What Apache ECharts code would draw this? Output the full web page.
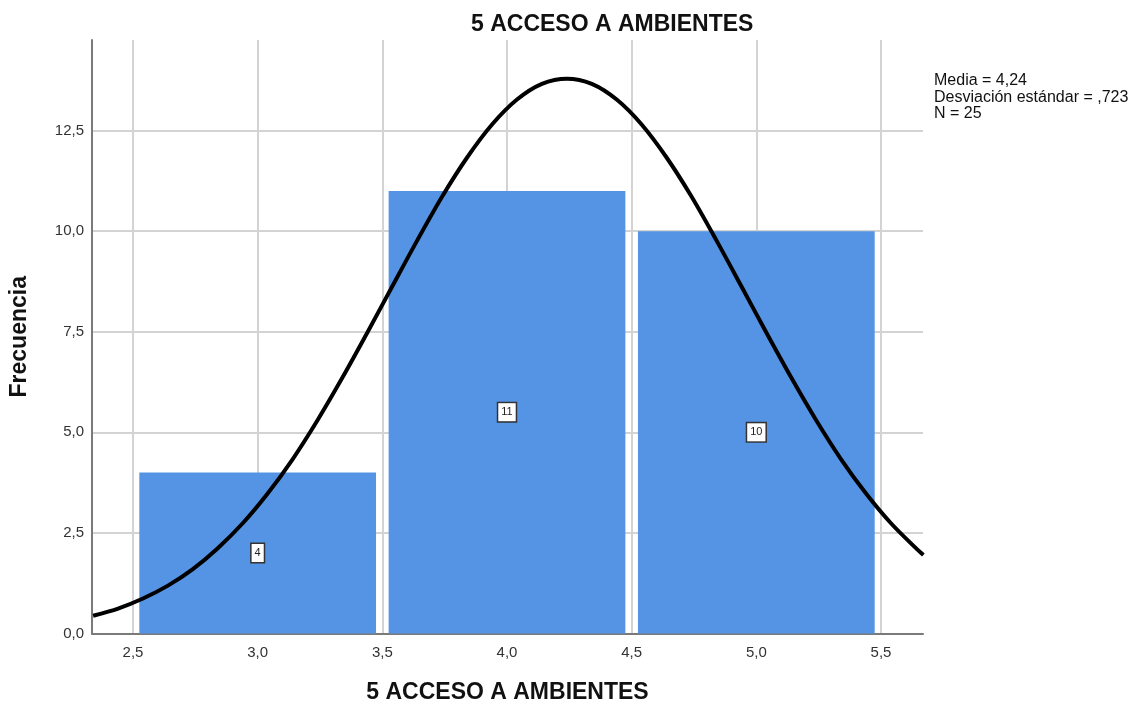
<!DOCTYPE html>
<html><head><meta charset="utf-8">
<script src="https://cdn.jsdelivr.net/npm/echarts@6/dist/echarts.min.js"></script>
<style>html,body{margin:0;padding:0;background:#fff}#c{width:1147px;height:706px}</style>
</head><body><div id="c"></div>
<script>
// Data
var binCenters = [3.0, 4.0, 5.0];
var counts = [4, 11, 10];
var curveX = [2.34, 2.44, 2.54, 2.64, 2.74, 2.84, 2.94, 3.04, 3.14, 3.24, 3.34, 3.44, 3.54, 3.64, 3.74, 3.84, 3.94, 4.04, 4.14, 4.24, 4.34, 4.44, 4.54, 4.64, 4.74, 4.84, 4.94, 5.04, 5.14, 5.24, 5.34, 5.44, 5.54, 5.64, 5.67];
var curveY = [0.44, 0.62, 0.87, 1.19, 1.60, 2.12, 2.74, 3.48, 4.33, 5.30, 6.36, 7.48, 8.63, 9.77, 10.86, 11.83, 12.65, 13.27, 13.66, 13.79, 13.66, 13.27, 12.65, 11.83, 10.86, 9.77, 8.63, 7.48, 6.36, 5.30, 4.33, 3.48, 2.74, 2.12, 1.95];
var statsLines = ['Media = 4,24', 'Desviación estándar = ,723', 'N = 25'];
var titleText = '5 ACCESO A AMBIENTES';
var xName = '5 ACCESO A AMBIENTES';
var yName = 'Frecuencia';

var font = '"Liberation Sans", Arial, sans-serif';
var chart = echarts.init(document.getElementById('c'), null, {renderer: 'canvas'});

function fmt(v) {
  if (Math.abs(v * 2 - Math.round(v * 2)) > 1e-6) return '';
  return (Math.round(v * 10) / 10).toFixed(1).replace('.', ',');
}

var barData = binCenters.map(function (c, i) { return [c, counts[i]]; });
var lineData = curveX.map(function (x, i) { return [x, curveY[i]]; });
var grid = '#d3d3d3', none = 'rgba(0,0,0,0)';

var option = {
  animation: false,
  backgroundColor: '#fff',
  title: {
    text: titleText, left: 466, top: 8,
    textStyle: {fontFamily: font, fontSize: 23, fontWeight: 'bold', color: '#111'}
  },
  grid: {left: 92, right: 224, top: 40, bottom: 72.5, containLabel: false, outerBoundsMode: 'none'},
  xAxis: {
    type: 'value', min: 2.3355, max: 5.6685, splitNumber: 7,
    name: xName, nameLocation: 'middle', nameGap: 48,
    nameTextStyle: {fontFamily: font, fontSize: 23, fontWeight: 'bold', color: '#111'},
    axisLine: {lineStyle: {color: '#7a7a7a', width: 2}},
    axisTick: {show: false},
    axisLabel: {formatter: fmt, showMinLabel: false, showMaxLabel: false, margin: 12,
      fontFamily: font, fontSize: 15, color: '#333'},
    splitLine: {show: true, lineStyle: {color: [none, grid, grid, grid, grid, grid, grid, grid, none], width: 2}}
  },
  yAxis: {
    type: 'value', min: 0, max: 14.75, interval: 2.5,
    name: yName, nameLocation: 'middle', nameGap: 61,
    nameTextStyle: {fontFamily: font, fontSize: 23, fontWeight: 'bold', color: '#111'},
    axisLine: {show: true, lineStyle: {color: '#7a7a7a', width: 2}},
    axisTick: {show: false},
    axisLabel: {formatter: fmt, showMaxLabel: false, margin: 8,
      fontFamily: font, fontSize: 15, color: '#333'},
    splitLine: {show: true, lineStyle: {color: [grid, grid, grid, grid, grid, grid, none], width: 2}}
  },
  graphic: statsLines.map(function (t, i) {
    return {type: 'text', left: 934, top: 73 + i * 16.5,
      style: {text: t, font: '16px ' + font, fill: '#111'}};
  }),
  series: [
    {
      type: 'custom',
      data: barData,
      z: 2,
      renderItem: function (params, api) {
        var c = api.value(0), v = api.value(1);
        var p0 = api.coord([c - 0.5, v]);
        var p1 = api.coord([c + 0.5, 0]);
        var inset = 6.3;
        var mid = api.coord([c, v / 2]);
        return {
          type: 'group',
          children: [
            {type: 'rect', shape: {x: p0[0] + inset, y: p0[1], width: p1[0] - p0[0] - 2 * inset, height: p1[1] - p0[1]},
              style: {fill: '#5594e4'}},
            {type: 'text', x: mid[0], y: mid[1],
              style: {text: String(v), font: '11px ' + font, fill: '#222', align: 'center', verticalAlign: 'middle',
                backgroundColor: '#fff', borderColor: '#333', borderWidth: 1.5, padding: [4, 3, 3, 3]}}
          ]
        };
      }
    },
    {
      type: 'line', data: lineData, smooth: 0.3, showSymbol: false, symbol: 'none', z: 5,
      lineStyle: {color: '#000', width: 4}
    }
  ]
};
chart.setOption(option);
</script></body></html>
